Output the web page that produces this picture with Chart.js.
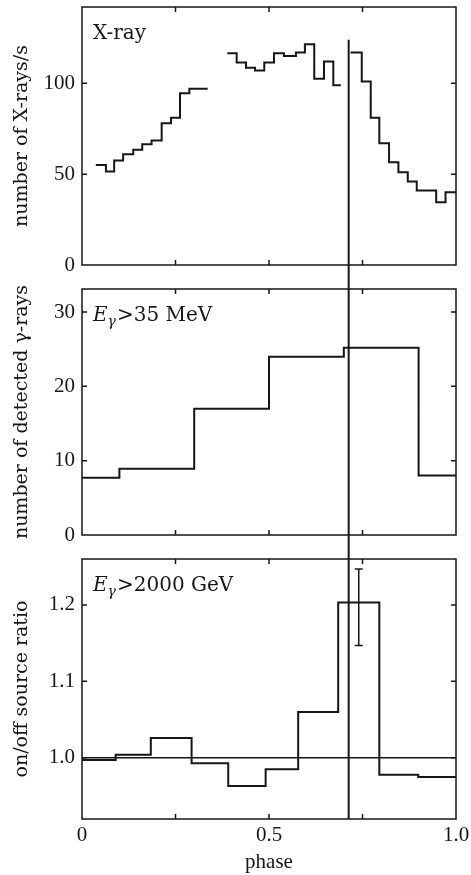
<!DOCTYPE html>
<html>
<head>
<meta charset="utf-8">
<script src="https://cdn.jsdelivr.net/npm/chart.js@4.4.1/dist/chart.umd.min.js"></script>
<style>
  html, body { margin: 0; padding: 0; background: #fff; }
  .panel { position: absolute; left: 0; width: 471px; }
  #xrayPanel { top: 0; height: 277px; }
  #gammaPanel { top: 277px; height: 270px; }
  #ratioPanel { top: 547px; height: 328px; }
</style>
</head>
<body>
<div class="panel" id="xrayPanel"><canvas id="xrayChart"></canvas></div>
<div class="panel" id="gammaPanel"><canvas id="gammaChart"></canvas></div>
<div class="panel" id="ratioPanel"><canvas id="ratioChart"></canvas></div>
<script>
// X-ray light curve: bin edges (phase) and rates, null = no data in that bin
const xrayEdges = [0.037, 0.064, 0.086, 0.110, 0.137, 0.161, 0.186, 0.213, 0.238, 0.262, 0.287, 0.311, 0.336,
    0.3885, 0.4136, 0.4385, 0.4626, 0.4874, 0.5134, 0.540, 0.572, 0.596, 0.621, 0.647, 0.672, 0.692,
    0.718, 0.748, 0.772, 0.795, 0.821, 0.846, 0.871, 0.895, 0.947, 0.972, 1.0];
const xrayRates = [55, 51.5, 57.5, 61, 63.5, 66.5, 68.5, 78, 81, 94.5, 97, 97,
    null,
    116.5, 111.5, 108.5, 107, 111.5, 116.5, 115, 117, 121.5, 102.5, 112, 99,
    null,
    117, 101, 81, 67, 56.5, 51, 46, 41, 34.5, 40];
const xrayTicks = [0, 50, 100];

// gamma rays above 35 MeV
const gammaEdges = [0, 0.1, 0.3, 0.5, 0.7, 0.9, 1.0];
const gammaCounts = [7.7, 8.9, 17, 24, 25.2, 8];
const gammaTicks = [0, 10, 20, 30];

// on/off source ratio above 2000 GeV
const ratioEdges = [0, 0.09, 0.184, 0.293, 0.391, 0.491, 0.578, 0.685, 0.795, 0.899, 1.0];
const ratioValues = [0.997, 1.004, 1.026, 0.993, 0.963, 0.985, 1.060, 1.203, 0.978, 0.975];
const ratioTicks = [1.0, 1.1, 1.2];
const ratioBaseline = 1.0;
const errPhase = [0.74];
const errLow = [1.147];
const errHigh = [1.247];

const phaseLabels = [0, 0.5, 1.0];
const phaseMarks = [0.25, 0.5, 0.75];
const markerPhase = 0.713;

const INK = '#161616';
const SERIF = "'Liberation Serif', 'DejaVu Serif', serif";
const WIDE_SERIF = "'DejaVu Serif', 'Liberation Serif', serif";

function stepPoints(edges, values) {
    const pts = [];
    values.forEach((v, i) => {
        if (v === null) {
            pts.push({x: edges[i], y: values[i - 1]});
            pts.push({x: edges[i], y: null});
        } else {
            pts.push({x: edges[i], y: v});
        }
    });
    pts.push({x: edges[values.length], y: values[values.length - 1]});
    return pts;
}

function stepDataset(edges, values) {
    return {
        data: stepPoints(edges, values),
        stepped: true,
        borderColor: INK,
        borderWidth: 2,
        pointRadius: 0,
        fill: false,
        spanGaps: false
    };
}

function yScale(min, max, ticks, title, fmt) {
    return {
        type: 'linear',
        min: min,
        max: max,
        afterFit: s => {
            s.width = 82;
            s.paddingTop = 0;
            s.paddingBottom = 0;
        },
        afterBuildTicks: s => { s.ticks = ticks.map(v => ({value: v})); },
        grid: {display: false, drawTicks: false},
        border: {display: false},
        ticks: {color: INK, font: {family: SERIF, size: 21}, padding: 7, callback: fmt},
        title: {
            display: true,
            text: title,
            color: INK,
            font: {family: WIDE_SERIF, size: 19},
            padding: {top: 11, bottom: 0}
        }
    };
}

function hiddenX() {
    return {type: 'linear', min: 0, max: 1, display: false};
}

// frame with inner ticks, the phase marker line and the panel label
const framePlugin = {
    id: 'frame',
    afterDatasetsDraw(chart, args, opts) {
        const {ctx, chartArea: a, scales: {x, y}} = chart;
        ctx.save();
        ctx.strokeStyle = INK;
        ctx.lineWidth = 1.5;
        ctx.strokeRect(a.left, a.top, a.right - a.left, a.bottom - a.top);

        ctx.beginPath();
        y.ticks.forEach(t => {
            const py = y.getPixelForValue(t.value);
            if (py <= a.top + 1 || py >= a.bottom - 1) return;
            ctx.moveTo(a.left, py); ctx.lineTo(a.left + 5, py);
            ctx.moveTo(a.right, py); ctx.lineTo(a.right - 5, py);
        });
        phaseMarks.forEach(v => {
            const px = x.getPixelForValue(v);
            ctx.moveTo(px, a.top); ctx.lineTo(px, a.top + 5);
            ctx.moveTo(px, a.bottom); ctx.lineTo(px, a.bottom - 5);
        });
        ctx.stroke();

        // vertical marker at the pulse phase
        const mx = x.getPixelForValue(markerPhase);
        const y0 = opts.markFrom === 'edge' ? 0 : y.getPixelForValue(opts.markFrom);
        const y1 = opts.markTo === 'edge' ? chart.height : a.bottom;
        ctx.lineWidth = 2;
        ctx.beginPath();
        ctx.moveTo(mx, y0);
        ctx.lineTo(mx, y1);
        ctx.stroke();

        // panel label
        let tx = a.left + 11;
        const ty = a.top + 32;
        ctx.fillStyle = INK;
        ctx.textBaseline = 'alphabetic';
        opts.label.forEach(p => {
            const size = p.sub ? 14 : 20;
            ctx.font = (p.italic ? 'italic ' : '') + size + 'px ' + WIDE_SERIF;
            ctx.fillText(p.text, tx, ty + (p.sub ? 5 : 0));
            tx += ctx.measureText(p.text).width + (p.sub ? 1 : 0);
        });
        ctx.restore();
    }
};

const errorPlugin = {
    id: 'errorBars',
    afterDatasetsDraw(chart) {
        const {ctx, scales: {x, y}} = chart;
        ctx.save();
        ctx.strokeStyle = INK;
        ctx.lineWidth = 1.5;
        ctx.beginPath();
        errPhase.forEach((p, i) => {
            const px = x.getPixelForValue(p);
            const lo = y.getPixelForValue(errLow[i]);
            const hi = y.getPixelForValue(errHigh[i]);
            ctx.moveTo(px, lo); ctx.lineTo(px, hi);
            ctx.moveTo(px - 4, lo); ctx.lineTo(px + 4, lo);
            ctx.moveTo(px - 4, hi); ctx.lineTo(px + 4, hi);
        });
        ctx.stroke();
        ctx.restore();
    }
};

function baseOptions(padding, scales, frame) {
    return {
        responsive: true,
        maintainAspectRatio: false,
        animation: false,
        layout: {padding: padding},
        scales: scales,
        plugins: {
            legend: {display: false},
            tooltip: {enabled: false},
            frame: frame
        }
    };
}

new Chart(document.getElementById('xrayChart'), {
    type: 'line',
    data: {datasets: [stepDataset(xrayEdges, xrayRates)]},
    options: baseOptions({top: 7, bottom: 12, left: 0, right: 15}, {
        x: hiddenX(),
        y: yScale(0, 142, xrayTicks, 'number of X-rays/s', v => String(v))
    }, {markFrom: 124, markTo: 'edge', label: [{text: 'X-ray'}]}),
    plugins: [framePlugin]
});

new Chart(document.getElementById('gammaChart'), {
    type: 'line',
    data: {datasets: [stepDataset(gammaEdges, gammaCounts)]},
    options: baseOptions({top: 12, bottom: 12, left: 0, right: 15}, {
        x: hiddenX(),
        y: yScale(0, 33.1, gammaTicks, 'number of detected γ-rays', v => String(v))
    }, {markFrom: 'edge', markTo: 'edge', label: [
        {text: 'E', italic: true}, {text: 'γ', italic: true, sub: true}, {text: '>35 MeV'}
    ]}),
    plugins: [framePlugin]
});

new Chart(document.getElementById('ratioChart'), {
    type: 'line',
    data: {datasets: [
        stepDataset(ratioEdges, ratioValues),
        {
            data: [{x: phaseLabels[0], y: ratioBaseline}, {x: phaseLabels[phaseLabels.length - 1], y: ratioBaseline}],
            borderColor: INK,
            borderWidth: 1.5,
            pointRadius: 0,
            fill: false
        }
    ]},
    options: baseOptions({top: 12, bottom: 0, left: 0, right: 15}, {
        x: {
            type: 'linear',
            min: 0,
            max: 1,
            afterFit: s => {
                s.height = 56;
                s.paddingLeft = 0;
                s.paddingRight = 0;
            },
            afterBuildTicks: s => { s.ticks = phaseLabels.map(v => ({value: v})); },
            grid: {display: false, drawTicks: false},
            border: {display: false},
            ticks: {
                color: INK,
                font: {family: SERIF, size: 21},
                padding: 4,
                maxRotation: 0,
                autoSkip: false,
                callback: v => v === 0 ? '0' : v.toFixed(1)
            },
            title: {
                display: true,
                text: 'phase',
                color: INK,
                font: {family: SERIF, size: 21},
                padding: {top: 0, bottom: 0}
            }
        },
        y: yScale(0.92, 1.26, ratioTicks, 'on/off source ratio', v => v.toFixed(1))
    }, {markFrom: 'edge', markTo: 'area', label: [
        {text: 'E', italic: true}, {text: 'γ', italic: true, sub: true}, {text: '>2000 GeV'}
    ]}),
    plugins: [framePlugin, errorPlugin]
});
</script>
</body>
</html>
